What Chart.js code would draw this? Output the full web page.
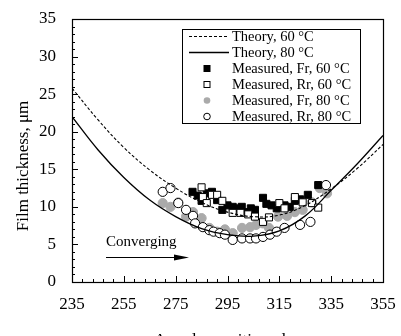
<!DOCTYPE html>
<html>
<head>
<meta charset="utf-8">
<script src="https://cdn.jsdelivr.net/npm/chart.js@4.4.1/dist/chart.umd.min.js"></script>
<style>
    html, body { margin: 0; padding: 0; background: #fff; }
    #wrap { width: 401px; height: 336px; }
</style>
</head>
<body>
<div id="wrap"><canvas id="filmChart"></canvas></div>
<script>
// axis ticks
var xTickValues = [235, 255, 275, 295, 315, 335, 355];
var yTickValues = [0, 5, 10, 15, 20, 25, 30, 35];

// predicted film thickness along the bearing (deg, um)
var theoryAngle = [235, 245, 255, 265, 275, 285, 295, 305, 315, 325, 335, 345, 355];
var theory60 = [25.8, 21.6, 17.9, 14.9, 12.5, 10.6, 9.3, 8.7, 8.9, 10.2, 12.4, 15.1, 18.3];
var theory80 = [22.0, 17.6, 13.9, 10.9, 8.7, 7.1, 6.3, 6.1, 6.8, 8.8, 12.2, 15.7, 19.5];

// measured points, front / rear sensors
var frAngle60 = [281.5, 283.5, 285, 287, 289, 291, 293, 295, 297, 299, 300.5, 302.5, 304, 305.6, 308.7, 310, 312, 314, 317, 319, 321, 323, 326, 330];
var fr60 = [12.0, 11.5, 10.8, 11.8, 12.0, 10.9, 9.6, 10.2, 10.0, 9.8, 10.0, 9.3, 9.8, 9.6, 11.2, 10.4, 10.2, 9.8, 10.2, 10.0, 10.8, 11.0, 11.6, 12.9];
var rrAngle60 = [285, 285.5, 287, 289, 291, 293, 297, 300, 303, 305.6, 308.7, 311, 315, 317, 321, 324, 327.6, 330];
var rr60 = [12.6, 11.3, 10.5, 11.6, 11.6, 10.8, 9.2, 9.2, 9.0, 8.7, 8.0, 8.6, 10.5, 9.8, 11.3, 10.6, 10.5, 9.9];
var frAngle80 = [270, 273, 276, 279, 281.7, 285, 288, 291, 294, 297, 300.6, 303.7, 306, 308.7, 311, 314.5, 318, 321, 324, 327.6, 330.6, 333.4];
var fr80 = [10.5, 10.0, 10.6, 8.7, 9.3, 8.5, 7.2, 6.7, 7.0, 6.5, 7.2, 7.3, 7.6, 7.8, 7.2, 8.7, 8.8, 9.3, 9.6, 10.6, 12.5, 11.8];
var rrAngle80 = [270, 273, 276, 279, 281.7, 282.5, 285.5, 288, 289.6, 292, 294, 297, 300.6, 303.7, 306, 308.7, 311.4, 314, 317, 323, 327, 333];
var rr80 = [12.0, 12.5, 10.5, 9.6, 8.8, 7.8, 7.3, 6.9, 6.7, 6.5, 6.3, 5.6, 5.8, 5.8, 5.8, 6.0, 6.3, 6.7, 7.2, 7.6, 8.0, 12.9];

var legendItems = ['Theory, 60 °C', 'Theory, 80 °C', 'Measured, Fr, 60 °C', 'Measured, Rr, 60 °C', 'Measured, Fr, 80 °C', 'Measured, Rr, 80 °C'];

var serif = '"Liberation Serif", "Times New Roman", serif';

function pairs(xs, ys) {
    return xs.map(function(x, i) { return { x: x, y: ys[i] }; });
}

// frame, inward tick marks, axis titles, legend and the arrow note
var decorPlugin = {
    id: 'decor',
    afterDatasetsDraw: function(chart) {
        var ctx = chart.ctx;
        var a = chart.chartArea;
        var xs = chart.scales.x;
        var ys = chart.scales.y;
        ctx.save();
        ctx.strokeStyle = '#000';
        ctx.lineWidth = 1;

        // inward ticks
        ctx.beginPath();
        for (var v = 0; v <= 35; v++) {
            var py = Math.round(ys.getPixelForValue(v)) + 0.5;
            var len = (v % 5 === 0) ? 6 : 3;
            ctx.moveTo(a.left, py);
            ctx.lineTo(a.left + len, py);
        }
        for (var d = 235; d <= 355; d += 4) {
            var px = Math.round(xs.getPixelForValue(d)) + 0.5;
            var l2 = ((d - 235) % 20 === 0) ? 6 : 3;
            ctx.moveTo(px, a.bottom);
            ctx.lineTo(px, a.bottom - l2);
        }
        ctx.stroke();

        ctx.lineWidth = 1.2;
        ctx.strokeRect(Math.round(a.left) + 0.5, Math.round(a.top) + 0.5, Math.round(a.right - a.left), Math.round(a.bottom - a.top));

        // axis titles
        ctx.fillStyle = '#000';
        ctx.font = '17px ' + serif;
        ctx.textAlign = 'center';
        ctx.textBaseline = 'middle';
        ctx.fillText('Angular position, deg', 228, 341);
        ctx.save();
        ctx.translate(24, 166);
        ctx.rotate(-Math.PI / 2);
        ctx.fillText('Film thickness, μm', 0, 0);
        ctx.restore();

        // note with arrow
        ctx.font = '15px ' + serif;
        ctx.textAlign = 'left';
        ctx.fillText('Converging', 106, 242);
        ctx.lineWidth = 1;
        ctx.beginPath();
        ctx.moveTo(106, 257.5);
        ctx.lineTo(178, 257.5);
        ctx.stroke();
        ctx.beginPath();
        ctx.moveTo(189, 257.5);
        ctx.lineTo(174, 254.5);
        ctx.lineTo(174, 260.5);
        ctx.closePath();
        ctx.fill();

        // legend box
        ctx.fillStyle = '#fff';
        ctx.fillRect(182, 29, 179, 95);
        ctx.strokeStyle = '#000';
        ctx.lineWidth = 1;
        ctx.strokeRect(182.5, 29.5, 178, 94);
        ctx.font = '14.5px ' + serif;
        ctx.textBaseline = 'middle';
        for (var i = 0; i < legendItems.length; i++) {
            var ly = 36.5 + i * 16;
            var mx = 207;
            ctx.fillStyle = '#000';
            ctx.strokeStyle = '#000';
            ctx.lineWidth = 1;
            if (i === 0) {
                ctx.setLineDash([3, 2]);
                ctx.beginPath();
                ctx.moveTo(189, ly);
                ctx.lineTo(229, ly);
                ctx.stroke();
                ctx.setLineDash([]);
            } else if (i === 1) {
                ctx.lineWidth = 1.3;
                ctx.beginPath();
                ctx.moveTo(189, ly);
                ctx.lineTo(229, ly);
                ctx.stroke();
            } else if (i === 2) {
                ctx.fillRect(mx - 3.5, ly - 3.5, 7, 7);
            } else if (i === 3) {
                ctx.strokeRect(mx - 3, ly - 3, 6, 6);
            } else if (i === 4) {
                ctx.fillStyle = '#aaaaaa';
                ctx.beginPath();
                ctx.arc(mx, ly, 3.3, 0, Math.PI * 2);
                ctx.fill();
            } else {
                ctx.beginPath();
                ctx.arc(mx, ly, 3.3, 0, Math.PI * 2);
                ctx.stroke();
            }
            ctx.fillStyle = '#000';
            ctx.fillText(legendItems[i], 232, ly + 0.5);
        }
        ctx.restore();
    }
};

var markerBase = {
    type: 'scatter',
    showLine: false,
    pointRadius: 4.6,
    pointBorderWidth: 1,
    pointHoverRadius: 4.6
};

var config = {
    type: 'scatter',
    data: {
        datasets: [
            Object.assign({}, markerBase, {
                label: 'Measured, Fr, 80 °C',
                data: pairs(frAngle80, fr80),
                pointStyle: 'circle',
                backgroundColor: '#aaaaaa',
                borderColor: '#aaaaaa',
                order: 6
            }),
            Object.assign({}, markerBase, {
                label: 'Measured, Rr, 80 °C',
                data: pairs(rrAngle80, rr80),
                pointStyle: 'circle',
                backgroundColor: '#ffffff',
                borderColor: '#000000',
                order: 5
            }),
            Object.assign({}, markerBase, {
                label: 'Measured, Fr, 60 °C',
                data: pairs(frAngle60, fr60),
                pointStyle: 'rect',
                pointRadius: 5,
                backgroundColor: '#000000',
                borderColor: '#000000',
                order: 4
            }),
            Object.assign({}, markerBase, {
                label: 'Measured, Rr, 60 °C',
                data: pairs(rrAngle60, rr60),
                pointStyle: 'rect',
                pointRadius: 5,
                backgroundColor: '#ffffff',
                borderColor: '#000000',
                order: 3
            }),
            {
                type: 'line',
                label: 'Theory, 60 °C',
                data: pairs(theoryAngle, theory60),
                borderColor: '#000',
                borderWidth: 1.1,
                borderDash: [3, 2],
                pointRadius: 0,
                tension: 0.4,
                fill: false,
                order: 2
            },
            {
                type: 'line',
                label: 'Theory, 80 °C',
                data: pairs(theoryAngle, theory80),
                borderColor: '#000',
                borderWidth: 1.3,
                pointRadius: 0,
                tension: 0.4,
                fill: false,
                order: 1
            }
        ]
    },
    options: {
        responsive: true,
        maintainAspectRatio: false,
        animation: false,
        events: [],
        layout: {
            padding: { top: 19, right: 18, left: 0, bottom: 0 }
        },
        plugins: {
            legend: { display: false },
            tooltip: { enabled: false }
        },
        scales: {
            x: {
                type: 'linear',
                min: 235,
                max: 355,
                grid: { display: false, drawTicks: false },
                border: { display: false },
                ticks: {
                    color: '#000',
                    font: { family: serif, size: 17 },
                    padding: 12,
                    maxRotation: 0
                },
                afterBuildTicks: function(scale) {
                    scale.ticks = xTickValues.map(function(v) { return { value: v }; });
                },
                afterFit: function(scale) {
                    scale.height = 54;
                    scale.paddingLeft = 0;
                    scale.paddingRight = 0;
                }
            },
            y: {
                min: 0,
                max: 35,
                grid: { display: false, drawTicks: false },
                border: { display: false },
                ticks: {
                    color: '#000',
                    font: { family: serif, size: 17 },
                    padding: 16
                },
                afterBuildTicks: function(scale) {
                    scale.ticks = yTickValues.map(function(v) { return { value: v }; });
                },
                afterFit: function(scale) {
                    scale.width = 72;
                    scale.paddingTop = 0;
                    scale.paddingBottom = 0;
                }
            }
        }
    },
    plugins: [decorPlugin]
};

new Chart(document.getElementById('filmChart'), config);
</script>
</body>
</html>
